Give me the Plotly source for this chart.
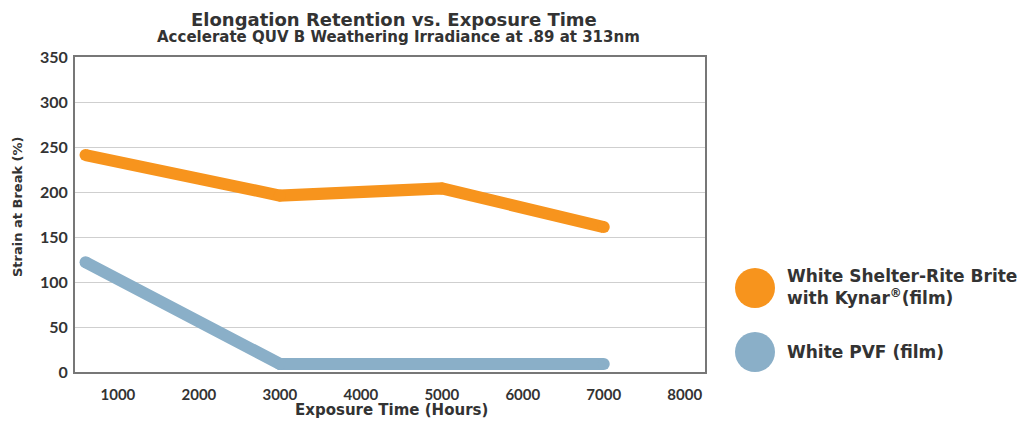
import plotly.graph_objects as go

hours_kynar = [600, 3000, 5000, 7000]
strain_kynar = [241, 196, 204, 161]
hours_pvf = [600, 3000, 7000]
strain_pvf = [122, 9, 9]
x_ticks = [1000, 2000, 3000, 4000, 5000, 6000, 7000, 8000]
y_ticks = [0, 50, 100, 150, 200, 250, 300, 350]
series_names = ["White Shelter-Rite Brite<br>with Kynar<sup>®</sup>(film)", "White PVF (film)"]
colors = ["#F7941D", "#8AAFC8"]
title = "Elongation Retention vs. Exposure Time"
subtitle = "Accelerate QUV B Weathering Irradiance at .89 at 313nm"
x_title = "Exposure Time (Hours)"
y_title = "Strain at Break (%)"

OFF = 8  # page body margin
W, H = 1017, 417
# plot area in reference pixels: x 75..705, y 57..372
L, R, T = 75 - OFF, 1017 - (705 - OFF), 57 - OFF
B = H - (372 - OFF)
pw, ph = W - L - R, H - T - B

def px2paper(x, y):
    return (x - OFF - L) / pw, (H - B - (y - OFF)) / ph

fig = go.Figure()
fig.add_trace(go.Scatter(x=hours_kynar, y=strain_kynar, mode="lines+markers",
                         line=dict(color=colors[0], width=12),
                         marker=dict(color=colors[0], size=12, line=dict(width=0)), showlegend=False))
fig.add_trace(go.Scatter(x=hours_pvf, y=strain_pvf, mode="lines+markers",
                         line=dict(color=colors[1], width=12),
                         marker=dict(color=colors[1], size=12, line=dict(width=0)), showlegend=False))

font = "Lato, 'Open Sans', sans-serif"
wide = "'DejaVu Sans', sans-serif"
txt = "#333"
shapes = []
annotations = []
for i, (cy, ty) in enumerate([(288, 287), (352, 352)]):
    x0, y0 = px2paper(735, cy + 20)
    x1, y1 = px2paper(775, cy - 20)
    shapes.append(dict(type="circle", xref="paper", yref="paper", x0=x0, y0=y0, x1=x1, y1=y1,
                       fillcolor=colors[i], line=dict(width=0)))
    tx, tyy = px2paper(785, ty)
    annotations.append(dict(xref="paper", yref="paper", x=tx, y=tyy, xanchor="left", yanchor="middle",
                            text="<b>" + series_names[i] + "</b>", showarrow=False, align="left",
                            font=dict(family=wide, size=17, color=txt)))

def ann(text, xpx, ypx, size, angle=0, fam=font, yanchor="middle"):
    x, y = px2paper(xpx, ypx)
    annotations.append(dict(xref="paper", yref="paper", x=x, y=y, xanchor="center", yanchor=yanchor,
                            text=text, showarrow=False, textangle=angle,
                            font=dict(family=fam, size=size, color=txt)))

ann("<b>" + title + "</b>", 394, 7, 18, fam=wide, yanchor="top")
ann("<b>" + subtitle + "</b>", 398, 37, 15, fam=wide)
ann("<b>" + x_title + "</b>", 391, 410, 15, fam=wide)
ann("<b>" + y_title + "</b>", 17, 206, 13, -90, fam=wide)

fig.update_layout(
    width=W, height=H,
    margin=dict(l=L, r=R, t=T, b=B, autoexpand=False),
    paper_bgcolor="white", plot_bgcolor="white",
    xaxis=dict(range=[470, 8250], tickvals=x_ticks, ticktext=["<b>%d</b>" % v for v in x_ticks],
               showgrid=False, zeroline=False, showline=True, linecolor="#777", linewidth=2, mirror=True,
               ticks="outside", ticklen=8, tickcolor="rgba(0,0,0,0)", automargin=False,
               tickfont=dict(family=font, size=15, color=txt)),
    yaxis=dict(range=[0, 350], tickvals=y_ticks, ticktext=["<b>%d</b>" % v for v in y_ticks],
               showgrid=True, gridcolor="#cfcfcf", gridwidth=1, zeroline=False,
               showline=True, linecolor="#777", linewidth=2, mirror=True,
               ticks="outside", ticklen=2, tickcolor="rgba(0,0,0,0)", automargin=False,
               tickfont=dict(family=font, size=16, color=txt)),
    shapes=shapes, annotations=annotations, showlegend=False,
)
fig.write_html("out.html")
